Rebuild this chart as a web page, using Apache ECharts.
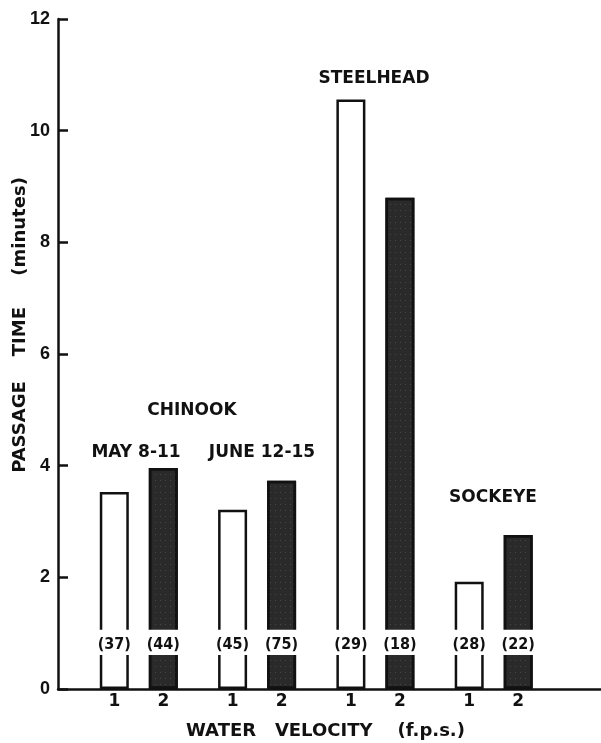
<!DOCTYPE html>
<html>
<head>
<meta charset="utf-8">
<script src="https://cdn.jsdelivr.net/npm/echarts@6/dist/echarts.min.js"></script>
<style>
  html, body { margin: 0; padding: 0; background: #fff; }
  #chart { width: 601px; height: 743px; }
</style>
</head>
<body>
<div id="chart"></div>
<script>
// fish groups along the x axis, two water velocities per group
const groups = ['CHINOOK MAY 8-11', 'CHINOOK JUNE 12-15', 'STEELHEAD', 'SOCKEYE'];
const velocities = ['1', '2'];
// passage time (minutes)
const timeV1 = [3.53, 3.21, 10.56, 1.92];
const timeV2 = [3.96, 3.73, 8.8, 2.76];
// number of fish, printed in brackets on each bar
const countV1 = [37, 45, 29, 28];
const countV2 = [44, 75, 18, 22];

const FONT = 'DejaVu Sans';
// white break across each bar where the count is printed (minutes)
const gapLo = 0.61, gapHi = 1.06;

const chart = echarts.init(document.getElementById('chart'), null, { renderer: 'canvas' });

const xRange = { min: -0.683, max: 3.907 };
// items are [value, groupIndex] so that stacking runs on the y dimension
const pts = arr => groups.map((g, i) => [arr[i], i]);
const enc = { x: 1, y: 0 };

function mainBar(name, vals, fill, vIdx, decal) {
  return {
    name: name,
    type: 'bar',
    xAxisIndex: 0,
    barWidth: 29,
    barGap: '69%',
    data: pts(vals),
    encode: enc,
    itemStyle: { color: fill, borderColor: '#111', borderWidth: 2.5, decal: decal },
    label: {
      show: true, position: 'bottom', distance: 4,
      formatter: () => velocities[vIdx],
      fontFamily: FONT, fontWeight: 'bold', fontSize: 17, color: '#111'
    },
    silent: true,
    animation: false
  };
}

function bandSeries(stack, counts) {
  return [
    {
      type: 'bar', xAxisIndex: 1, stack: stack, barWidth: 35, barGap: '40%',
      data: pts(groups.map(() => gapLo)),
      encode: enc,
      itemStyle: { color: 'rgba(0,0,0,0)' },
      z: 3, silent: true, animation: false
    },
    {
      type: 'bar', xAxisIndex: 1, stack: stack, barWidth: 35, barGap: '40%',
      data: pts(groups.map(() => gapHi - gapLo)),
      encode: enc,
      itemStyle: { color: '#fff' },
      label: {
        show: true, position: 'inside', offset: [0, 2],
        formatter: p => '(' + counts[p.dataIndex] + ')',
        fontFamily: 'DejaVu Sans Condensed, DejaVu Sans', fontWeight: 'bold', fontSize: 16, color: '#111'
      },
      z: 3, silent: true, animation: false
    }
  ];
}

const annText = (text, x, y) => ({
  type: 'text', x: x, y: y,
  style: {
    text: text, fill: '#111', font: 'bold 17px "' + FONT + '"',
    textAlign: 'center', textVerticalAlign: 'middle'
  }
});

const speckle = {
  symbol: 'rect', symbolSize: 1, color: 'rgba(255,255,255,0.14)',
  dashArrayX: [[1, 4]], dashArrayY: [1, 5], rotation: 0
};

chart.setOption({
  backgroundColor: '#fff',
  animation: false,
  grid: { left: 58, right: 0, top: 19, bottom: 54, containLabel: false, outerBoundsMode: 'none' },
  xAxis: [
    {
      type: 'value', ...xRange,
      name: 'WATER   VELOCITY    (f.p.s.)',
      nameLocation: 'middle', nameGap: 33,
      nameTextStyle: {
        fontFamily: FONT, fontWeight: 'bold', fontSize: 18, color: '#111',
        padding: [0, 8, 0, 0]
      },
      axisLine: { show: true, onZero: false, lineStyle: { color: '#111', width: 2.5 } },
      axisTick: { show: false },
      axisLabel: { show: false },
      splitLine: { show: false }
    },
    {
      type: 'value', ...xRange, show: false, splitLine: { show: false }
    }
  ],
  yAxis: {
    type: 'value', min: 0, max: 12, interval: 2,
    name: 'PASSAGE    TIME     (minutes)',
    nameLocation: 'middle', nameGap: 29, nameRotate: 90, nameMoveOverlap: false,
    nameTextStyle: {
      fontFamily: FONT, fontWeight: 'bold', fontSize: 18, color: '#111',
      padding: [0, 0, 0, 58]
    },
    axisLine: { show: true, onZero: false, lineStyle: { color: '#111', width: 2.5 } },
    axisTick: { show: true, inside: true, length: 10, lineStyle: { color: '#111', width: 2.5 } },
    axisLabel: {
      margin: 8, fontFamily: 'Liberation Sans', fontWeight: 'bold', fontSize: 18, color: '#111'
    },
    splitLine: { show: false }
  },
  graphic: [
    annText('CHINOOK', 192, 411),
    annText('MAY 8-11', 136, 453),
    annText('JUNE 12-15', 262, 453),
    annText('STEELHEAD', 374, 79),
    annText('SOCKEYE', 493, 498)
  ],
  series: [
    mainBar('1 f.p.s.', timeV1, '#fff', 0),
    mainBar('2 f.p.s.', timeV2, '#2a2a2a', 1, speckle),
    ...bandSeries('b1', countV1),
    ...bandSeries('b2', countV2)
  ]
});

window.addEventListener('resize', () => chart.resize());
</script>
</body>
</html>
